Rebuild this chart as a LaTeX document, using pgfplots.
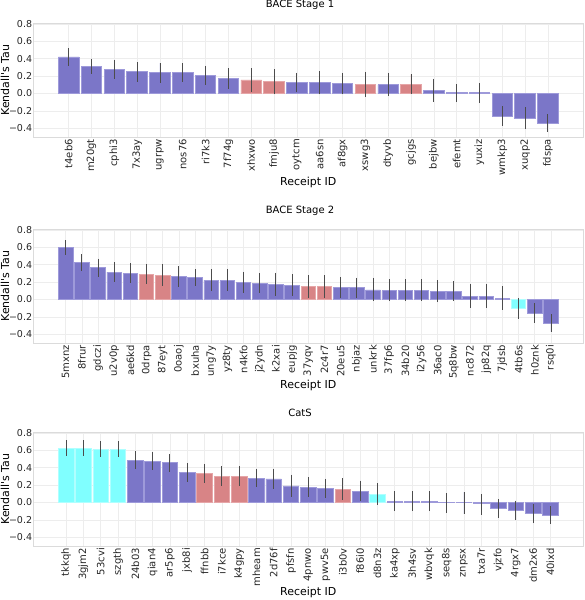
\documentclass[border=0pt]{standalone}
\usepackage{pgfplots}
\usepackage{pgfplotstable}
\pgfplotsset{compat=1.18}
\usepackage{fontspec}
\setmainfont{DejaVu Sans}[Ligatures=TeXOff]
\definecolor{bblue}{RGB}{123,118,200}
\definecolor{bblueE}{RGB}{158,154,218}
\definecolor{bred}{RGB}{216,132,134}
\definecolor{bredE}{RGB}{230,166,168}
\definecolor{bcyan}{RGB}{128,255,255}
\definecolor{bcyanE}{RGB}{175,255,255}

% ---------- BACE Stage 1 ----------
\pgfplotstableread{
x y ep em
0 0.42 0.10 0.10
1 0.31 0.09 0.09
2 0.28 0.11 0.11
3 0.25 0.11 0.12
4 0.24 0.11 0.12
5 0.24 0.11 0.11
6 0.21 0.11 0.11
7 0.17 0.12 0.12
10 0.127 0.113 0.107
11 0.127 0.133 0.137
12 0.115 0.125 0.125
14 0.10 0.14 0.13
16 0.035 0.135 0.135
17 0.01 0.10 0.11
18 0.01 0.11 0.12
19 -0.26 0.12 0.11
20 -0.29 0.13 0.12
21 -0.34 0.11 0.10
}\sOneBlue
\pgfplotstableread{
x y ep em
8 0.155 0.135 0.135
9 0.14 0.14 0.15
13 0.10 0.15 0.14
15 0.10 0.12 0.11
}\sOneRed

% ---------- BACE Stage 2 ----------
\pgfplotstableread{
x y ep em
0 0.596 0.084 0.086
1 0.427 0.093 0.097
2 0.365 0.105 0.105
3 0.315 0.115 0.115
4 0.30 0.115 0.11
7 0.26 0.125 0.12
8 0.25 0.10 0.09
9 0.22 0.13 0.12
10 0.22 0.13 0.12
11 0.20 0.12 0.12
12 0.18 0.12 0.11
13 0.17 0.14 0.13
14 0.16 0.13 0.12
17 0.14 0.12 0.12
18 0.14 0.11 0.12
19 0.11 0.14 0.13
20 0.10 0.13 0.12
21 0.10 0.13 0.12
22 0.10 0.13 0.12
23 0.09 0.13 0.12
24 0.09 0.12 0.11
25 0.04 0.14 0.14
26 0.04 0.14 0.14
27 0.01 0.14 0.13
29 -0.16 0.12 0.11
30 -0.27 0.105 0.10
}\sTwoBlue
\pgfplotstableread{
x y ep em
5 0.29 0.12 0.11
6 0.28 0.13 0.12
15 0.15 0.13 0.13
16 0.15 0.13 0.13
}\sTwoRed
\pgfplotstableread{
x y ep em
28 -0.10 0.12 0.12
}\sTwoCyan

% ---------- CatS ----------
\pgfplotstableread{
x y ep em
4 0.487 0.10 0.107
5 0.475 0.105 0.105
6 0.456 0.104 0.10
7 0.345 0.111 0.115
11 0.28 0.107 0.10
12 0.27 0.117 0.11
13 0.19 0.13 0.125
14 0.17 0.12 0.11
15 0.16 0.115 0.11
17 0.13 0.12 0.11
19 0.01 0.12 0.11
20 0.01 0.12 0.11
21 0.01 0.12 0.11
22 0.003 0.104 0.123
23 0.003 0.117 0.133
24 -0.01 0.11 0.13
25 -0.065 0.105 0.115
26 -0.09 0.11 0.11
27 -0.126 0.111 0.114
28 -0.146 0.10 0.104
}\sThreeBlue
\pgfplotstableread{
x y ep em
8 0.333 0.115 0.113
9 0.30 0.12 0.11
10 0.30 0.12 0.11
16 0.153 0.123 0.123
}\sThreeRed
\pgfplotstableread{
x y ep em
0 0.625 0.095 0.095
1 0.625 0.095 0.095
2 0.613 0.092 0.093
3 0.613 0.092 0.093
18 0.092 0.128 0.122
}\sThreeCyan

\pgfplotsset{
  kt/.style={
    scale only axis, width=550pt, height=114pt, anchor=south west,
    ymin=-0.5, ymax=0.81,
    ytick={-0.4,-0.2,0,0.2,0.4,0.6,0.8},
    yticklabels={−0.4,−0.2,0.0,0.2,0.4,0.6,0.8},
    grid=major, major grid style={draw=black!7, line width=0.6pt},
    axis line style={draw=black!14, line width=0.9pt},
    major tick length=0pt, tick style={draw=none},
    ticklabel style={font=\fontsize{9.5}{11}\selectfont, text=black!85},
    yticklabel style={inner sep=1pt},
    xticklabel style={rotate=90, anchor=east, inner sep=2pt, font=\fontsize{10}{12}\selectfont},
    ylabel={Kendall's Tau}, xlabel={Receipt ID},
    ylabel style={at={(axis description cs:-0.0515,0.5)}, anchor=center, font=\fontsize{11}{13}\selectfont},
    xlabel style={anchor=center, font=\fontsize{11}{13}\selectfont},
    title style={at={(axis description cs:0.485,1.1316)}, anchor=base, yshift=-6pt, font=\fontsize{10}{12}\selectfont},
  },
  bb/.style={ybar, bar width=0.9, bar shift=0pt, line width=0.8pt,
    error bars/y dir=both, error bars/y explicit, error bars/error mark=none,
    error bars/error bar style={draw=black!70, line width=0.9pt}},
}

\begin{document}
\begin{tikzpicture}
\path[use as bounding box] (0,0) rectangle (584pt,600pt);

\begin{axis}[kt, at={(33.3pt,463pt)},
  title={BACE Stage 1},
  xmin=-1.55, xmax=22.55,
  xtick={0,...,21},
  xticklabels={t4eb6,m20gt,cphi3,7x3ay,ugrpw,nos76,ri7k3,7f74g,xhxwo,fmju8,oytcm,aa6sn,af8gx,xswg3,dtyvb,gcjgs,bejbw,efemt,yuxiz,wmkp3,xuqp2,fdspa},
  xlabel style={at={(axis description cs:0.5,-0.40)}},
]
\addplot[bb, fill=bblue, draw=bblueE] table[x=x,y=y,y error plus=ep,y error minus=em]{\sOneBlue};
\addplot[bb, fill=bred, draw=bredE] table[x=x,y=y,y error plus=ep,y error minus=em]{\sOneRed};
\end{axis}

\begin{axis}[kt, at={(33.3pt,257pt)},
  title={BACE Stage 2},
  xmin=-2, xmax=32,
  xtick={0,...,30},
  xticklabels={5mxnz,8frur,gdczi,u2v0p,ae6kd,0drpa,87eyt,0oaoj,bxuha,ung7y,yz8ty,n4kfo,j2ydn,k2xai,eupjg,37yqv,2c4r7,20eu5,nbjaz,unkrk,37fp6,34b20,i2y56,36ac0,5q8bw,nc872,jp82q,7jdsb,4tb6s,h0znk,rsq0i},
  xlabel style={at={(axis description cs:0.5,-0.37)}},
]
\addplot[bb, fill=bblue, draw=bblueE] table[x=x,y=y,y error plus=ep,y error minus=em]{\sTwoBlue};
\addplot[bb, fill=bred, draw=bredE] table[x=x,y=y,y error plus=ep,y error minus=em]{\sTwoRed};
\addplot[bb, fill=bcyan, draw=bcyanE] table[x=x,y=y,y error plus=ep,y error minus=em]{\sTwoCyan};
\end{axis}

\begin{axis}[kt, at={(33.3pt,54pt)},
  title={CatS},
  xmin=-1.9, xmax=29.9,
  xtick={0,...,28},
  xticklabels={tkkqh,3gjm2,53cvi,szgth,24b03,qian4,ar5p6,jxb8i,ffnbb,i7kce,k4gpy,mheam,2d76f,pfsfn,4pnwo,pwv5e,i3b0v,f86i0,d8n3z,ka4xp,3h4sv,wbvqk,seq8s,znpsx,txa7r,vjzfo,4rgx7,dm2x6,40ixd},
  xlabel style={at={(axis description cs:0.5,-0.41)}},
]
\addplot[bb, fill=bblue, draw=bblueE] table[x=x,y=y,y error plus=ep,y error minus=em]{\sThreeBlue};
\addplot[bb, fill=bred, draw=bredE] table[x=x,y=y,y error plus=ep,y error minus=em]{\sThreeRed};
\addplot[bb, fill=bcyan, draw=bcyanE] table[x=x,y=y,y error plus=ep,y error minus=em]{\sThreeCyan};
\end{axis}
\end{tikzpicture}
\end{document}
